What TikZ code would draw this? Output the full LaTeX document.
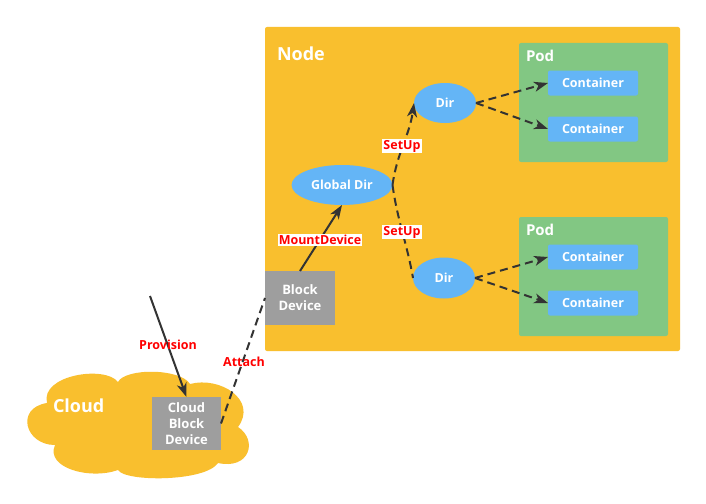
\documentclass[tikz,border=0pt]{standalone}
\usepackage{fontspec}
\setmainfont{Open Sans}
\usetikzlibrary{shapes.geometric,arrows.meta}
\definecolor{nodey}{RGB}{249,191,46}
\definecolor{podg}{RGB}{130,199,131}
\definecolor{contb}{RGB}{100,181,246}
\definecolor{grayb}{RGB}{158,158,158}
\definecolor{edgec}{RGB}{51,51,51}
\definecolor{lblred}{RGB}{255,0,0}
\begin{document}
\begin{tikzpicture}[x=1pt,y=-1pt,
  every node/.style={font=\bfseries, inner sep=0pt, outer sep=0pt},
  bigbox/.style={fill=nodey, rounded corners=2pt, anchor=north west},
  podbox/.style={fill=podg, rounded corners=2pt, anchor=north west, minimum width=149pt, minimum height=119pt},
  contbox/.style={fill=contb, rounded corners=2pt, minimum width=90pt, minimum height=25pt, text=white, font=\bfseries\fontsize{12.5}{14}\selectfont},
  dirnode/.style={ellipse, fill=contb, text=white, font=\bfseries\fontsize{12.5}{14}\selectfont},
  devbox/.style={fill=grayb, text=white, align=center, font=\bfseries\fontsize{13}{16}\selectfont},
  title/.style={text=white, anchor=west},
  conn/.style={draw=edgec, line width=2pt},
  dsh/.style={dash pattern=on 8pt off 5pt},
  arr/.style={-{Stealth[length=14pt,width=10pt,inset=4pt]}},
  lbl/.style={text=lblred, fill=white, inner sep=1pt, font=\bfseries\fontsize{12.5}{14}\selectfont}
]
\useasboundingbox (0,0) rectangle (706,503);
\fill[white] (0,0) rectangle (706,503);

% Node
\node[bigbox, minimum width=415pt, minimum height=324pt] (nodebox) at (265,27) {};
\node[title, font=\bfseries\fontsize{18}{21}\selectfont] (nodelbl) at (277,54) {Node};

% Pods
\node[podbox] (pod1) at (519,43) {};
\node[title, font=\bfseries\fontsize{15}{18}\selectfont] (pod1lbl) at (526,56) {Pod};
\node[contbox] (c1) at (593,83) {Container};
\node[contbox] (c2) at (593,129) {Container};

\node[podbox] (pod2) at (519,217) {};
\node[title, font=\bfseries\fontsize{15}{18}\selectfont] (pod2lbl) at (526,230) {Pod};
\node[contbox] (c3) at (593,257) {Container};
\node[contbox] (c4) at (593,303) {Container};

% Dirs
\node[dirnode, minimum width=62pt, minimum height=40pt] (dir1) at (445,103) {Dir};
\node[dirnode, minimum width=62pt, minimum height=41pt] (dir2) at (444,278) {Dir};
\node[dirnode, minimum width=101pt, minimum height=40pt] (gd) at (342,185) {Global Dir};

% Block device
\node[devbox, minimum width=70pt, minimum height=54pt] (bd) at (300,298) {Block\\Device};

% Cloud outline
\fill[nodey] (55,445) .. controls (25,445) and (15,408) .. (47,403)
  .. controls (40,375) and (105,365) .. (118,382)
  .. controls (125,368) and (180,368) .. (190,384)
  .. controls (220,376) and (258,400) .. (238,427)
  .. controls (258,440) and (250,470) .. (218,463)
  .. controls (205,482) and (125,482) .. (118,470)
  .. controls (90,480) and (45,468) .. (55,445) -- cycle;
\node[title, font=\bfseries\fontsize{18}{21}\selectfont] (cloudlbl) at (53,406) {Cloud};
\node[devbox, minimum width=69pt, minimum height=53pt] (cbd) at (186.5,423.5) {Cloud\\Block\\Device};

% Connectors
\coordinate (pstart) at (150,296);
\draw[conn, arr] (pstart) -- (cbd.north);
\node[lbl, fill=none] (provlbl) at (168,345) {Provision};

\draw[conn, dsh] (cbd.east) -- (bd.west);
\node[lbl, fill=none] (attlbl) at (244,362) {Attach};

\draw[conn, arr] (bd.north) -- (gd.south);
\node[lbl] (mdlbl) at (320,240) {MountDevice};

\draw[conn, arr, dsh] (gd.east) to[out=82,in=-98] (dir1.west);
\draw[conn, dsh] (gd.east) to[out=-82,in=100] (dir2.west);
\node[lbl] (su1) at (402,146) {SetUp};
\node[lbl] (su2) at (402,232) {SetUp};

\draw[conn, arr, dsh] (dir1.east) -- (c1.west);
\draw[conn, arr, dsh] (dir1.east) -- (c2.west);
\draw[conn, arr, dsh] (dir2.east) -- (c3.west);
\draw[conn, arr, dsh] (dir2.east) -- (c4.west);
\end{tikzpicture}
\end{document}
